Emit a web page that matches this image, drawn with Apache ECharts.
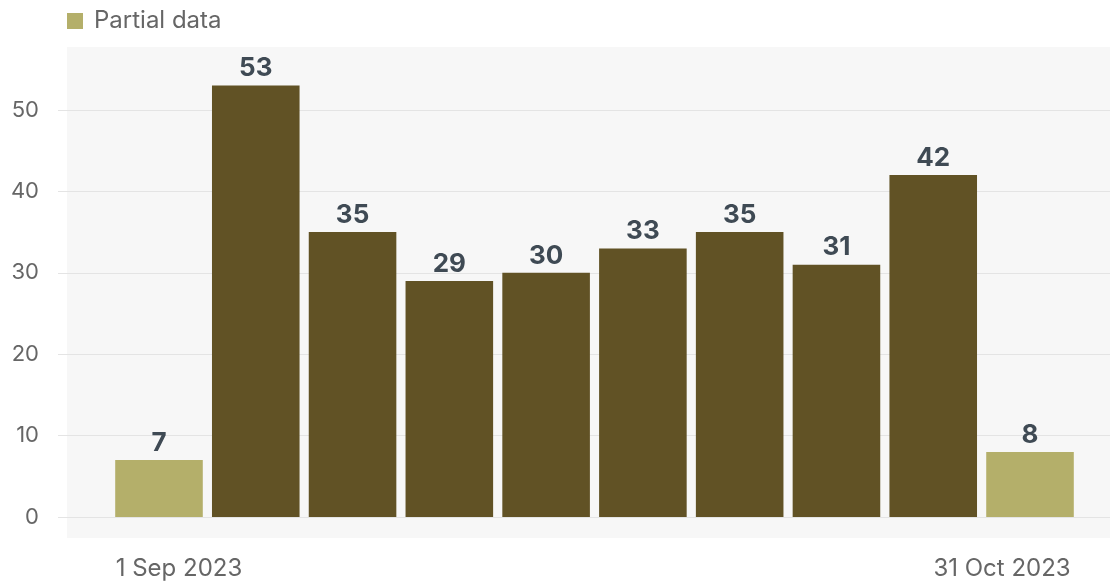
<!DOCTYPE html>
<html>
<head>
<meta charset="utf-8">
<style>
  html, body { margin: 0; padding: 0; background: #ffffff; }
  #chart { width: 1110px; height: 583px; }
</style>
<script src="https://cdn.jsdelivr.net/npm/echarts@6/dist/echarts.min.js"></script>
</head>
<body>
<div id="chart"></div>
<script>
// Monthly counts, first and last bins are partial periods
const categories = ['1 Sep 2023', '', '', '', '', '', '', '', '', '31 Oct 2023'];
const fullValues = ['-', 53, 35, 29, 30, 33, 35, 31, 42, '-'];
const partialValues = [7, '-', '-', '-', '-', '-', '-', '-', '-', 8];
const yTicks = [0, 10, 20, 30, 40, 50];

const FONT = 'Inter, "Noto Sans", sans-serif';
const DARK = '#615225';
const LIGHT = '#b4af6a';

const chart = echarts.init(document.getElementById('chart'), null, { renderer: 'canvas' });

const valueLabel = {
  show: true,
  position: 'top',
  distance: 4,
  color: '#3f4a54',
  fontFamily: FONT,
  fontWeight: 'bold',
  fontSize: 26
};

chart.setOption({
  animation: false,
  backgroundColor: '#ffffff',
  graphic: [{
    type: 'rect',
    z: -10,
    silent: true,
    shape: { x: 67, y: 47, width: 1043, height: 491 },
    style: { fill: '#f7f7f7' }
  }],
  legend: {
    left: 62,
    top: 4,
    data: ['Partial data'],
    icon: 'rect',
    itemWidth: 16,
    itemHeight: 16,
    selectedMode: false,
    textStyle: { color: '#666666', fontFamily: FONT, fontSize: 24, padding: [0, 0, 0, 6] }
  },
  grid: [
    // scale, gridlines and tick labels
    { left: 58, right: 0, top: 110, bottom: 66 },
    // bars
    { left: 110.6, right: 31.6, top: 110, bottom: 66 }
  ],
  xAxis: [
    { gridIndex: 0, type: 'category', data: categories, show: false },
    {
      gridIndex: 1,
      type: 'category',
      data: categories,
      axisLine: { show: false },
      axisTick: { show: false },
      axisLabel: {
        interval: 0,
        margin: 40,
        color: '#666666',
        fontFamily: FONT,
        fontSize: 24,
        formatter: function (v, i) {
          if (i === 0) return '{first|' + v + '}';
          if (i === categories.length - 1) return '{last|' + v + '}';
          return v;
        },
        rich: {
          first: { color: '#666666', fontFamily: FONT, fontSize: 24, padding: [0, 0, 0, 40] },
          last: { color: '#666666', fontFamily: FONT, fontSize: 24, padding: [0, 56, 0, 0] }
        }
      }
    }
  ],
  yAxis: [
    {
      gridIndex: 0,
      type: 'value',
      min: yTicks[0],
      max: yTicks[yTicks.length - 1],
      interval: 10,
      axisLine: { show: false },
      axisTick: { show: false },
      axisLabel: { margin: 19, color: '#666666', fontFamily: FONT, fontSize: 22 },
      splitLine: { show: true, lineStyle: { color: '#e4e4e4', width: 1 } }
    },
    {
      gridIndex: 1,
      type: 'value',
      min: yTicks[0],
      max: yTicks[yTicks.length - 1],
      interval: 10,
      show: false,
      splitLine: { show: false }
    }
  ],
  series: [
    {
      name: 'Full data',
      type: 'bar',
      xAxisIndex: 1,
      yAxisIndex: 1,
      data: fullValues,
      clip: false,
      barCategoryGap: '9.5%',
      barGap: '-100%',
      itemStyle: { color: DARK },
      label: valueLabel
    },
    {
      name: 'Partial data',
      type: 'bar',
      xAxisIndex: 1,
      yAxisIndex: 1,
      data: partialValues,
      clip: false,
      barCategoryGap: '9.5%',
      barGap: '-100%',
      itemStyle: { color: LIGHT },
      label: valueLabel
    }
  ]
});
</script>
</body>
</html>
